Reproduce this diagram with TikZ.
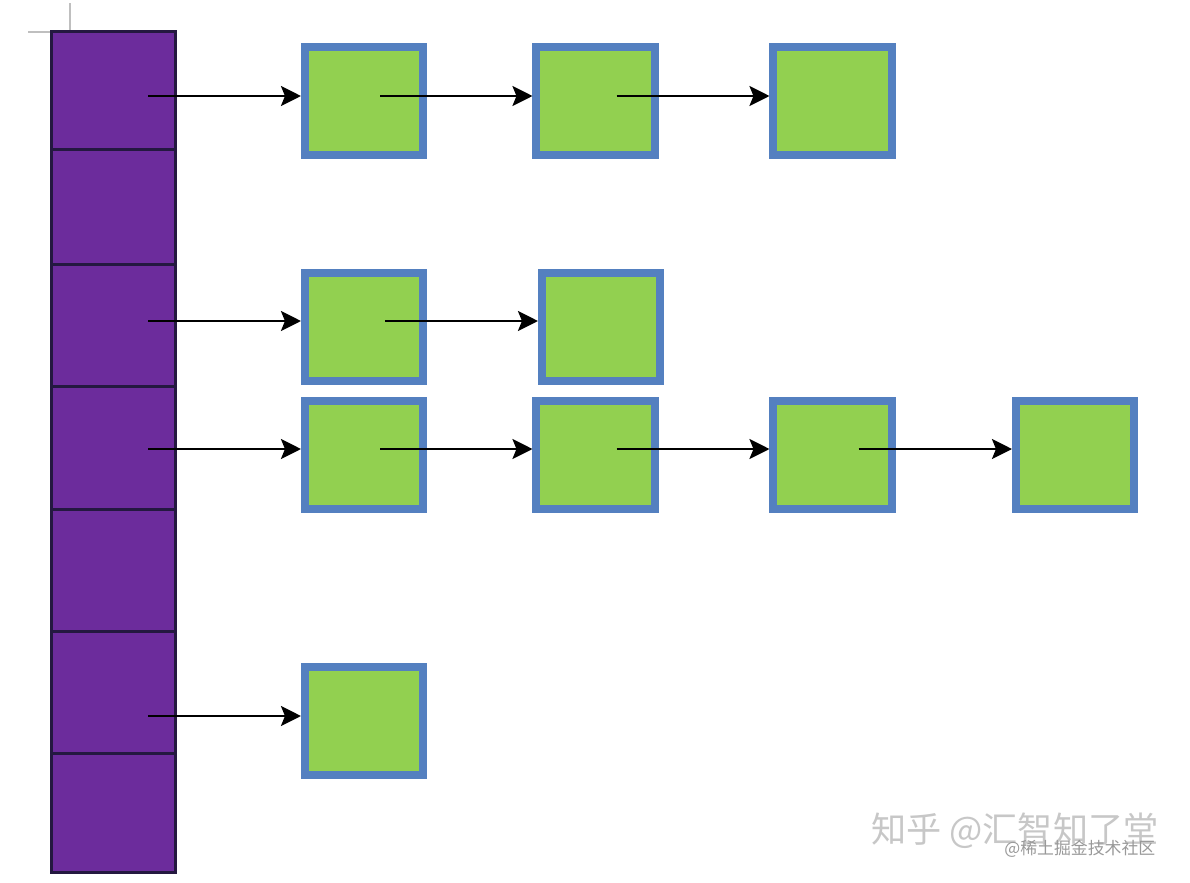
\documentclass[tikz,border=0pt]{standalone}
\usepackage{fontspec}
\usepackage{xcolor}
\usepackage{tikz}
\usetikzlibrary{arrows.meta,positioning,calc}
\newfontfamily\cjk{Noto Sans CJK SC}
\definecolor{slotpurple}{RGB}{108,44,156}
\definecolor{slotedge}{RGB}{36,24,64}
\definecolor{entrygreen}{RGB}{146,208,80}
\definecolor{entryblue}{RGB}{84,128,192}

\begin{document}
\begin{tikzpicture}[
  x=0.025cm,y=-0.025cm,
  slot/.style={draw=slotedge,fill=slotpurple,line width=0.075cm,minimum width=3.1cm,inner sep=0pt},
  entry/.style={draw=entryblue,fill=entrygreen,line width=0.2cm,minimum width=2.95cm,minimum height=2.675cm,inner sep=0pt},
  link/.style={->,line width=0.065cm},
  >={Stealth[length=0.5cm,width=0.5cm,inset=0.1cm]}
]
\useasboundingbox (0,0) rectangle (1190,882);
% crop mark
\draw[black!25,line width=0.05cm] (70,3) -- (70,32) -- (28,32);
% bucket array
\node[slot,minimum height=2.95cm]  (a1) at (113.5,91)    {};
\node[slot,minimum height=2.875cm] (a2) at (113.5,207.5) {};
\node[slot,minimum height=3.05cm]  (a3) at (113.5,326)   {};
\node[slot,minimum height=3.075cm] (a4) at (113.5,448.5) {};
\node[slot,minimum height=3.05cm]  (a5) at (113.5,571)   {};
\node[slot,minimum height=3.05cm]  (a6) at (113.5,693)   {};
\node[slot,minimum height=2.95cm]  (a7) at (113.5,813)   {};
% linked entries
\node[entry] (n11) at (364,101)    {};
\node[entry] (n12) at (595.5,101)  {};
\node[entry] (n13) at (832.5,101)  {};
\node[entry] (n21) at (364,327)    {};
\node[entry] (n22) at (601,327)    {};
\node[entry] (n31) at (364,455)    {};
\node[entry] (n32) at (595.5,455)  {};
\node[entry] (n33) at (832.5,455)  {};
\node[entry] (n34) at (1075,455)   {};
\node[entry] (n41) at (364,721)    {};
% arrow starts
\coordinate (s1) at (148,96);
\coordinate (s3) at (148,321);
\coordinate (s4) at (148,449);
\coordinate (s6) at (148,716);
\draw[link] (s1) -- (s1 -| n11.west);
\draw[link] ($(n11.center |- s1)+(16,0)$) -- (s1 -| n12.west);
\draw[link] ($(n12.center |- s1)+(21,0)$) -- (s1 -| n13.west);
\draw[link] (s3) -- (s3 -| n21.west);
\draw[link] ($(n21.center |- s3)+(21,0)$) -- (s3 -| n22.west);
\draw[link] (s4) -- (s4 -| n31.west);
\draw[link] ($(n31.center |- s4)+(16,0)$) -- (s4 -| n32.west);
\draw[link] ($(n32.center |- s4)+(21,0)$) -- (s4 -| n33.west);
\draw[link] ($(n33.center |- s4)+(26,0)$) -- (s4 -| n34.west);
\draw[link] (s6) -- (s6 -| n41.west);
% watermark
\node[anchor=west,text=black!22,font=\cjk\fontsize{25}{27}\selectfont,inner sep=0pt] (wm1) at (871,831) {知乎 @汇智知了堂};
\node[anchor=west,text=black!40,font=\cjk\fontsize{12}{14}\selectfont,inner sep=0pt] (wm2) at (1004,849) {@稀土掘金技术社区};
\end{tikzpicture}
\end{document}
